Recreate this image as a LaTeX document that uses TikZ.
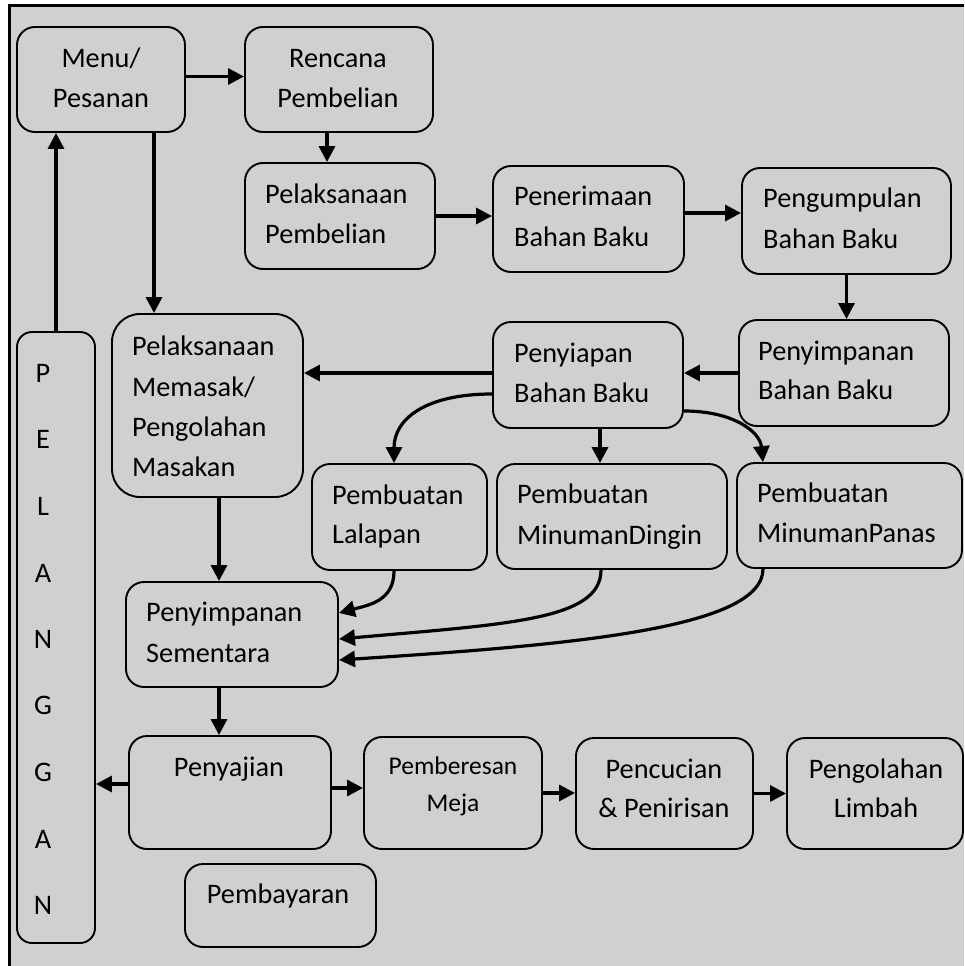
\documentclass[tikz,border=0pt]{standalone}
\usepackage{fontspec}
\setmainfont{Carlito}
\usetikzlibrary{arrows.meta}
\definecolor{panel}{RGB}{208,208,208}
\begin{document}
\begin{tikzpicture}[x=1pt,y=-1pt,
  box/.style={draw=black, line width=1.9pt, rounded corners=18pt, fill=panel, inner sep=0pt},
  lbl/.style={inner sep=0pt, font=\fontsize{28.3}{34}\selectfont},
  lblsm/.style={inner sep=0pt, font=\fontsize{25.5}{30}\selectfont},
  flow/.style={line width=3.2pt, -{Triangle[length=16pt,width=16pt]}},
]
\useasboundingbox (0,0) rectangle (964,966);
\fill[white] (0,0) rectangle (964,966);
\fill[panel] (9.5,6) rectangle (964,966);
\draw[line width=3pt] (9.5,966) -- (9.5,6) -- (964,6);

% process boxes
\node[box, minimum width=168pt, minimum height=105pt] (menu) at (101,79.5) {};
\node[box, minimum width=188pt, minimum height=105pt] (renc) at (339,79.5) {};
\node[box, minimum width=190pt, minimum height=106pt] (pelpemb) at (340,216) {};
\node[box, minimum width=191pt, minimum height=106pt] (terima) at (588.5,219) {};
\node[box, minimum width=209pt, minimum height=106pt] (kumpul) at (846.5,221) {};
\node[box, minimum width=210pt, minimum height=106pt] (simpanbb) at (844,373) {};
\node[box, minimum width=190pt, minimum height=106pt] (siap) at (588,375) {};
\node[box, minimum width=191pt, minimum height=183pt, rounded corners=28pt] (masak) at (207.5,405.5) {};
\node[box, minimum width=175pt, minimum height=106pt] (lalap) at (399.5,517) {};
\node[box, minimum width=230pt, minimum height=105pt] (dingin) at (612,516.5) {};
\node[box, minimum width=225pt, minimum height=105pt] (panas) at (849.5,515.5) {};
\node[box, minimum width=212pt, minimum height=105pt] (sementara) at (232,634.5) {};
\node[box, minimum width=78pt, minimum height=611pt, rounded corners=15pt] (pelanggan) at (56,637.5) {};
\node[box, minimum width=202pt, minimum height=113pt] (saji) at (230,792.5) {};
\node[box, minimum width=178pt, minimum height=112pt] (beres) at (453,793) {};
\node[box, minimum width=177pt, minimum height=111pt] (cuci) at (664.5,793.5) {};
\node[box, minimum width=176pt, minimum height=111pt] (limbah) at (875,793.5) {};
\node[box, minimum width=191pt, minimum height=83pt] (bayar) at (280.5,905.5) {};

% labels
\node[lbl, anchor=base] (t-menu1) at (101,67) {Menu/};
\node[lbl, anchor=base] (t-menu2) at (101,107) {Pesanan};
\node[lbl, anchor=base] (t-renc1) at (338,67) {Rencana};
\node[lbl, anchor=base] (t-renc2) at (338,107) {Pembelian};
\node[lbl, anchor=base west] (t-pel1) at (265,203) {Pelaksanaan};
\node[lbl, anchor=base west] (t-pel2) at (265,243) {Pembelian};
\node[lbl, anchor=base west] (t-ter1) at (514,205) {Penerimaan};
\node[lbl, anchor=base west] (t-ter2) at (514,246) {Bahan Baku};
\node[lbl, anchor=base west] (t-kum1) at (763,207) {Pengumpulan};
\node[lbl, anchor=base west] (t-kum2) at (763,248) {Bahan Baku};
\node[lbl, anchor=base west] (t-siap1) at (514,362) {Penyiapan};
\node[lbl, anchor=base west] (t-siap2) at (514,402) {Bahan Baku};
\node[lbl, anchor=base west] (t-sbb1) at (758,360) {Penyimpanan};
\node[lbl, anchor=base west] (t-sbb2) at (758,399) {Bahan Baku};
\node[lbl, anchor=base west] (t-mas1) at (132,355) {Pelaksanaan};
\node[lbl, anchor=base west] (t-mas2) at (132,396) {Memasak/};
\node[lbl, anchor=base west] (t-mas3) at (132,436) {Pengolahan};
\node[lbl, anchor=base west] (t-mas4) at (132,476) {Masakan};
\node[lbl, anchor=base west] (t-lal1) at (332,504) {Pembuatan};
\node[lbl, anchor=base west] (t-lal2) at (332,543) {Lalapan};
\node[lbl, anchor=base west] (t-din1) at (517,503) {Pembuatan};
\node[lbl, anchor=base west] (t-din2) at (517,544) {MinumanDingin};
\node[lbl, anchor=base west] (t-pan1) at (757,502) {Pembuatan};
\node[lbl, anchor=base west] (t-pan2) at (757,542) {MinumanPanas};
\node[lbl, anchor=base west] (t-sem1) at (146,621) {Penyimpanan};
\node[lbl, anchor=base west] (t-sem2) at (146,662) {Sementara};
\node[lbl, anchor=base] (t-p1) at (43,382) {P};
\node[lbl, anchor=base] (t-p2) at (43,448) {E};
\node[lbl, anchor=base] (t-p3) at (43,515) {L};
\node[lbl, anchor=base] (t-p4) at (43,582) {A};
\node[lbl, anchor=base] (t-p5) at (43,648) {N};
\node[lbl, anchor=base] (t-p6) at (43,714) {G};
\node[lbl, anchor=base] (t-p7) at (43,781) {G};
\node[lbl, anchor=base] (t-p8) at (43,848) {A};
\node[lbl, anchor=base] (t-p9) at (43,914) {N};
\node[lbl, anchor=base] (t-saji) at (229,776) {Penyajian};
\node[lblsm, anchor=base] (t-ber1) at (453,774) {Pemberesan};
\node[lblsm, anchor=base] (t-ber2) at (453,811) {Meja};
\node[lbl, anchor=base] (t-cuc1) at (664,778) {Pencucian};
\node[lbl, anchor=base] (t-cuc2) at (664,817) {\& Penirisan};
\node[lbl, anchor=base] (t-lim1) at (876,778) {Pengolahan};
\node[lbl, anchor=base] (t-lim2) at (876,817) {Limbah};
\node[lbl, anchor=base] (t-bayar) at (278,903) {Pembayaran};

% straight connectors
\draw[flow] ([yshift=3pt]menu.east) -- ([yshift=3pt]menu.east -| renc.west);
\draw[flow] ([xshift=-12pt]renc.south) -- ([xshift=-12pt]renc.south |- pelpemb.north);
\draw[flow] ([xshift=53pt]menu.south) -- ([xshift=53pt]menu.south |- masak.north);
\draw[flow] (pelanggan.north) -- (pelanggan.north |- menu.south);
\draw[flow] (pelpemb.east) -- (pelpemb.east -| terima.west);
\draw[flow] ([yshift=6pt]terima.east) -- ([yshift=6pt]terima.east -| kumpul.west);
\draw[flow] (kumpul.south) -- (kumpul.south |- simpanbb.north);
\draw[flow] (simpanbb.west) -- (simpanbb.west -| siap.east);
\draw[flow] ([yshift=2pt]siap.west) -- ([yshift=2pt]siap.west -| masak.east);
\draw[flow] ([xshift=12pt]siap.south) -- ([xshift=12pt]siap.south |- dingin.north);
\draw[flow] ([xshift=11.5pt]masak.south) -- ([xshift=11.5pt]masak.south |- sementara.north);
\draw[flow] ([xshift=-13pt]sementara.south) -- ([xshift=-13pt]sementara.south |- saji.north);
\draw[flow] ([yshift=8.5pt]saji.west) -- ([yshift=8.5pt]saji.west -| pelanggan.east);
\draw[flow] ([yshift=4.5pt]saji.east) -- ([yshift=4.5pt]saji.east -| beres.west);
\draw[flow] (beres.east) -- (beres.east -| cuci.west);
\draw[flow] (cuci.east) -- (cuci.east -| limbah.west);

% curved connectors
\draw[flow] ([yshift=-19pt]siap.west) .. controls +(-65,0) and +(0,-45) .. ([xshift=-5.5pt]lalap.north);
\draw[flow] ([yshift=-36pt]siap.east) .. controls +(50,0) and +(-3,-30) .. ([xshift=-86.5pt]panas.north);
\draw[flow] ([xshift=-5.5pt]lalap.south) .. controls +(0,30) and +(30,-8) .. ([yshift=21.5pt]sementara.east);
\draw[flow] ([xshift=-11pt]dingin.south) .. controls +(0,50) and +(170,-15) .. ([yshift=-4.5pt]sementara.east);
\draw[flow] ([xshift=-86.5pt]panas.south) .. controls +(0,60) and +(230,-15) .. ([yshift=-25.5pt]sementara.east);
\end{tikzpicture}
\end{document}
